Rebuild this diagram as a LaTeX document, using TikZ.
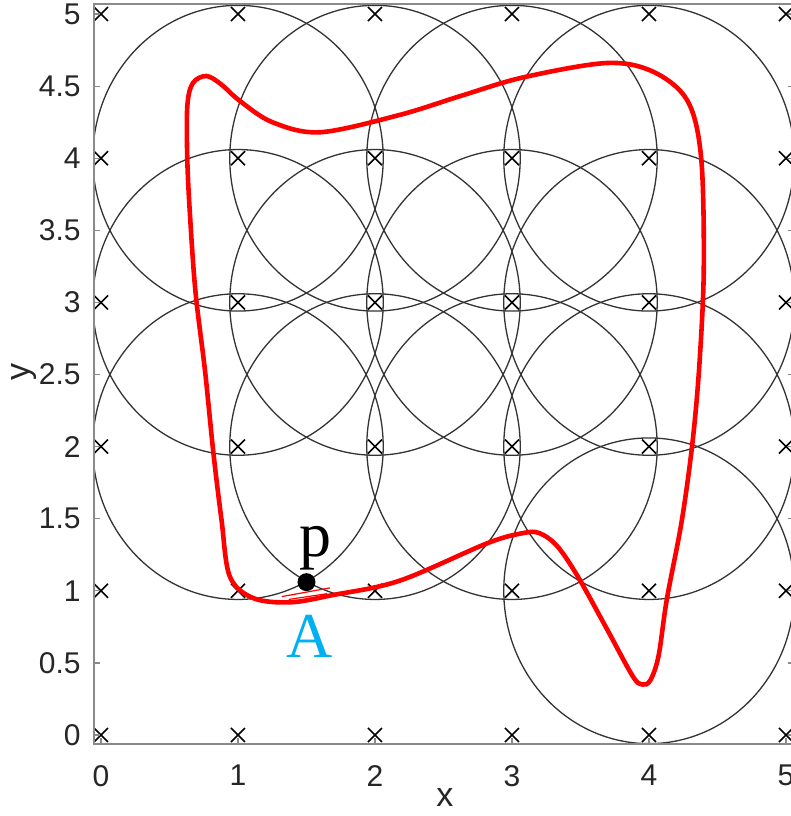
\documentclass[tikz,border=0pt]{standalone}
\usepackage{fontspec}
\setmainfont{Liberation Sans}
\newfontfamily\serifletters{Liberation Serif}
\usetikzlibrary{positioning}
\definecolor{routered}{HTML}{FF0000}
\definecolor{labelblue}{HTML}{00B0F0}
\definecolor{axisgray}{HTML}{8A8A8A}
\definecolor{ticktext}{HTML}{262626}

\begin{document}
\begin{tikzpicture}[
    x=68.5pt, y=72.1pt,
    axis/.style={draw=axisgray, line width=0.9pt},
    tickmark/.style={draw=axisgray, line width=0.6pt},
    ticklabel/.style={text=ticktext, font=\fontsize{15}{15}\selectfont, inner sep=0pt},
    sensor/.style={draw=black!80, line width=0.65pt},
    crossmark/.style={draw=black, line width=0.8pt},
    route/.style={draw=routered, line width=2.3pt},
    tangent/.style={draw=routered, line width=0.6pt},
    dot/.style={circle, fill=black, inner sep=0pt, minimum size=9pt},
    letter/.style={font=\serifletters\fontsize{32}{32}\selectfont, inner sep=0pt}
]
\useasboundingbox (-0.7372,-0.5617) rectangle (5.0365,5.0971);

% Sensing discs and grid points
\begin{scope}
\clip (-0.051,-0.062) rectangle (5.06,5.069);
\foreach \cx in {1,...,4}
  \foreach \cy in {2,3,4}
    \draw[sensor] (\cx,\cy) circle[radius=1.06];
\draw[sensor] (4,1) circle[radius=1.06];
\foreach \gx in {0,...,5}
  \foreach \gy in {0,...,5}
    \draw[crossmark] (\gx,\gy) +(-3.5pt,-3.5pt) -- +(3.5pt,3.5pt)
                               +(-3.5pt,3.5pt) -- +(3.5pt,-3.5pt);
\end{scope}

% Axes
\draw[axis] (-0.051,-0.062) rectangle (5.06,5.069);
\foreach \v in {0,0.5,1,1.5,2,2.5,3,3.5,4,4.5,5} {
  \draw[tickmark] (-0.051,\v) -- ++(3pt,0);
  \draw[tickmark] (5.06,\v) -- ++(-3pt,0);
  \node[ticklabel, anchor=east] (ytick\v) at ([xshift=-6.5pt]-0.051,\v) {\v};
}
\foreach \v in {0,...,5} {
  \draw[tickmark] (\v,-0.062) -- ++(0,3pt);
  \node[ticklabel, anchor=north] (xtick\v) at ([yshift=-10.5pt]\v,-0.062) {\v};
}
\node[ticklabel, font=\fontsize{17}{17}\selectfont] (xlabel) at (2.51,-0.437) {x};
\node[ticklabel, font=\fontsize{17}{17}\selectfont, rotate=90] (ylabel) at (-0.56,2.517) {y};

% Robot route
\draw[route] plot[smooth cycle, tension=0.55] coordinates {
  (0.94,1.10) (0.88,1.49) (0.82,1.96) (0.76,2.52) (0.69,3.07) (0.65,3.60)
  (0.63,3.99) (0.63,4.36) (0.67,4.52) (0.77,4.57) (0.88,4.51) (1.01,4.40)
  (1.25,4.25) (1.60,4.18) (2.18,4.30) (2.62,4.43) (3.08,4.56) (3.69,4.66)
  (4.03,4.60) (4.28,4.40) (4.38,4.01) (4.40,3.25) (4.37,2.60) (4.32,2.05)
  (4.24,1.49) (4.13,0.94) (4.07,0.55) (4.01,0.38) (3.95,0.35) (3.88,0.41)
  (3.69,0.74) (3.48,1.10) (3.33,1.31) (3.20,1.40) (3.08,1.40) (2.82,1.33)
  (2.18,1.07) (1.69,0.97) (1.38,0.92) (1.11,0.95)
};
\draw[tangent] (1.32,0.96) -- (1.67,1.02);
\draw[tangent] (1.37,0.94) -- (1.65,0.98);

% Point p and label A
\node[dot] (p) at (1.50,1.06) {};
\node[letter] (plabel) at (1.569,1.297) {p};
\node[letter, text=labelblue] (alabel) at (1.526,0.687) {A};

\end{tikzpicture}
\end{document}
